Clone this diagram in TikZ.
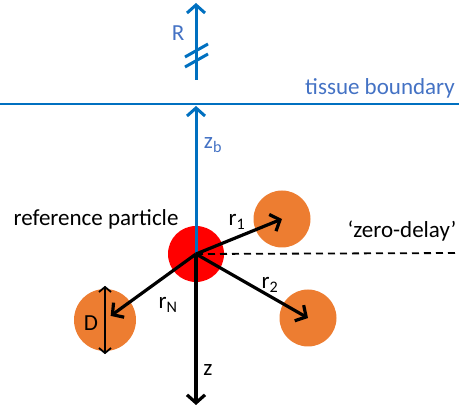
\documentclass[tikz,border=0pt]{standalone}
\usepackage{fontspec}
\setmainfont{Carlito}
\usetikzlibrary{arrows.meta,positioning}
\definecolor{lineblue}{RGB}{0,112,192}
\definecolor{textblue}{RGB}{68,114,196}
\definecolor{partorange}{RGB}{237,125,49}
\tikzset{
  refpart/.style={circle, fill=red, minimum size=56pt, inner sep=0pt},
  neighbour/.style={circle, fill=partorange, minimum size=57pt, inner sep=0pt},
  vec/.style={-{Straight Barb[length=8pt,width=18pt]}, line width=3.2pt, black},
  bluevec/.style={-{Straight Barb[length=8pt,width=18pt]}, line width=3pt, lineblue},
  lbl/.style={font=\fontsize{23}{26}\selectfont, inner sep=1pt},
}
\begin{document}
\begin{tikzpicture}[x=1pt, y=-1pt]
  \useasboundingbox (0,0) rectangle (459,409);

  % particles
  \node[refpart] (ref) at (196,254) {};
  \node[neighbour] (p1) at (282,219) {};
  \node[neighbour] (p2) at (308,318) {};
  \node[neighbour, minimum size=62pt] (pN) at (105,320) {};

  % tissue boundary and distance to it
  \coordinate (bl) at (0,104);
  \coordinate (br) at (459,104);
  \coordinate (zbtip) at (196,106);
  \draw[lineblue, line width=2.2pt] (bl) -- (br);
  \draw[bluevec] (ref.center) -- (zbtip);

  % R, broken axis
  \coordinate (Rbot) at (196,80);
  \coordinate (Rtop) at (196,3);
  \draw[bluevec] (Rbot) -- (Rtop);
  \draw[lineblue, line width=3pt] (185,57) -- (208,44);
  \draw[lineblue, line width=3pt] (185,67) -- (208,54);

  % zero-delay line and depth axis
  \coordinate (zd) at (459,253);
  \coordinate (zend) at (196,405);
  \draw[black, line width=1.8pt, dash pattern=on 7pt off 5pt] (ref.center) -- (zd);
  \draw[vec] (ref.center) -- (zend);

  % vectors to neighbours
  \draw[vec] (ref.center) -- (p1.center);
  \draw[vec] (ref.center) -- (p2.center);
  \draw[vec, shorten >=7pt] (ref.center) -- (pN.center);
  \draw[{Straight Barb[length=5pt,width=12pt]}-{Straight Barb[length=5pt,width=12pt]}, line width=1.8pt]
    ([yshift=3pt]pN.north) -- ([yshift=-3pt]pN.south);

  % labels
  \node[lbl, text=textblue] (Rlbl) at (178,33) {R};
  \node[lbl, text=textblue] (tblbl) at (380,88) {tissue boundary};
  \node[lbl, text=textblue] (zblbl) at (213,145) {z\textsubscript{b}};
  \node[lbl] (reflbl) at (96,219) {reference particle};
  \node[lbl] (r1lbl) at (237,222) {r\textsubscript{1}};
  \node[lbl] (r2lbl) at (270,285) {r\textsubscript{2}};
  \node[lbl] (rNlbl) at (168,305) {r\textsubscript{N}};
  \node[lbl] (zdlbl) at (402,231) {‘zero-delay’};
  \node[lbl] (Dlbl) at (91,323) {D};
  \node[lbl] (zlbl) at (208,370) {z};
\end{tikzpicture}
\end{document}
